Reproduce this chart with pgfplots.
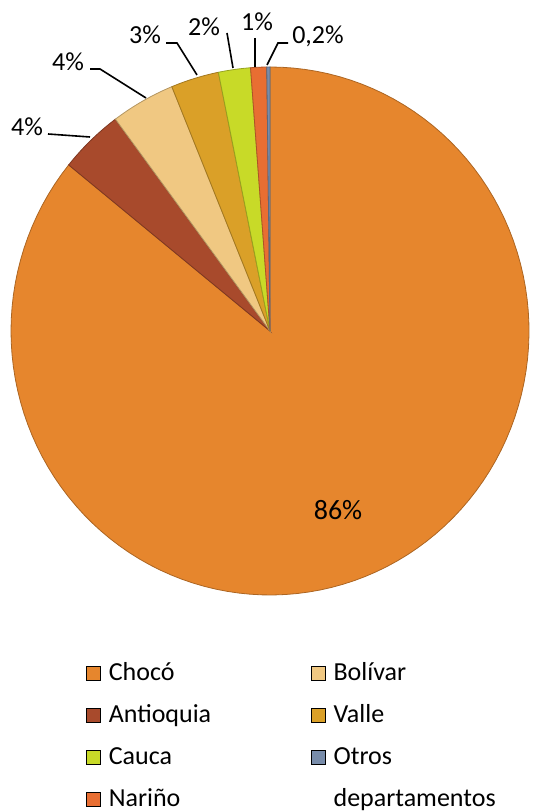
\documentclass[border=0pt]{standalone}
\usepackage{pgfplots}
\usepackage{pgfplotstable}
\pgfplotsset{compat=1.18}
\usepackage{fontspec}
\setmainfont{Carlito}

\definecolor{colChoco}{RGB}{230,134,45}
\definecolor{colAntioquia}{RGB}{168,74,44}
\definecolor{colBolivar}{RGB}{240,200,130}
\definecolor{colValle}{RGB}{218,160,40}
\definecolor{colCauca}{RGB}{200,218,40}
\definecolor{colNarino}{RGB}{232,110,50}
\definecolor{colOtros}{RGB}{120,140,170}

\pgfplotstableread{
label value
Choco 86
Antioquia 4
Bolivar 4
Valle 3
Cauca 2
Narino 1
Otros 0.2
}\piedata

\begin{document}
\begin{tikzpicture}
\begin{axis}[
  width=267pt, height=406pt, scale only axis,
  xmin=0, xmax=534, ymin=0, ymax=812,
  hide axis, clip=false,
  legend columns=2,
  legend cell align=left,
  legend image code/.code={\fill[#1] (0pt,-2.9pt) rectangle (6.8pt,3.9pt);},
  legend style={draw=none, fill=none, at={(axis cs:86,149)}, anchor=north west,
    inner xsep=0pt, inner ysep=0pt, font=\fontsize{13}{15}\selectfont,
    nodes={inner sep=0pt, text height=8.5pt, text depth=2.5pt},
    row sep=10pt,
    /tikz/every odd column/.append style={column sep=4pt},
    /tikz/every even column/.append style={column sep=50pt}},
]
\coordinate (bl) at (rel axis cs:0,0);
\coordinate (tr) at (rel axis cs:1,1);
% total
\pgfplotstablegetrowsof{\piedata}
\pgfmathtruncatemacro\nrows{\pgfplotsretval-1}
\def\total{0}
\pgfplotsforeachungrouped \i in {0,...,\nrows}{%
  \pgfplotstablegetelem{\i}{value}\of\piedata
  \pgfmathsetmacro\total{\total+\pgfplotsretval}%
}
\def\cum{0}
\pgfplotsforeachungrouped \i in {0,...,\nrows}{%
  \pgfplotstablegetelem{\i}{value}\of\piedata \let\val\pgfplotsretval
  \pgfplotstablegetelem{\i}{label}\of\piedata \let\lab\pgfplotsretval
  \pgfmathsetmacro\angA{90-(\cum/\total)*360}%
  \pgfmathsetmacro\angB{90-((\cum+\val)/\total)*360}%
  \edef\doplot{\noexpand\addplot[forget plot, fill=col\lab, draw=col\lab!75!black, line width=0.4pt, domain=\angB:\angA, samples=120] ({270+259*cos(x)},{481+264*sin(x)}) -- (axis cs:270,481) -- cycle;}%
  \doplot
  \pgfmathsetmacro\cum{\cum+\val}%
}

% labels and leader lines
\begin{scope}[font=\fontsize{13}{15}\selectfont]
\node at (axis cs:27,685) {4\%};
\node at (axis cs:68,750) {4\%};
\node at (axis cs:145,777) {3\%};
\node at (axis cs:204,785) {2\%};
\node at (axis cs:257,790) {1\%};
\node at (axis cs:318,776) {0,2\%};
\end{scope}
\node[font=\fontsize{14}{16}\selectfont] at (axis cs:338,302) {86\%};
\draw[line width=0.8pt] (axis cs:48,678) -- (axis cs:90,675);
\draw[line width=0.8pt] (axis cs:90,743) -- (axis cs:100,743) -- (axis cs:146,714);
\draw[line width=0.8pt] (axis cs:166,769) -- (axis cs:177,769) -- (axis cs:197,737);
\draw[line width=0.8pt] (axis cs:227,779) -- (axis cs:233,744);
\draw[line width=0.8pt] (axis cs:255,774) -- (axis cs:255,745);
\draw[line width=0.8pt] (axis cs:288,769) -- (axis cs:278,769) -- (axis cs:267,747);

% legend (two columns, row by row)
\addlegendimage{fill=colChoco}\addlegendentry{Chocó}
\addlegendimage{fill=colBolivar}\addlegendentry{Bolívar}
\addlegendimage{fill=colAntioquia}\addlegendentry{Antioquia}
\addlegendimage{fill=colValle}\addlegendentry{Valle}
\addlegendimage{fill=colCauca}\addlegendentry{Cauca}
\addlegendimage{fill=colOtros}\addlegendentry{Otros}
\addlegendimage{fill=colNarino}\addlegendentry{Nariño}
\addlegendimage{empty legend}\addlegendentry{departamentos}
\end{axis}
\pgfresetboundingbox
\path (bl) rectangle (tr);
\end{tikzpicture}
\end{document}
